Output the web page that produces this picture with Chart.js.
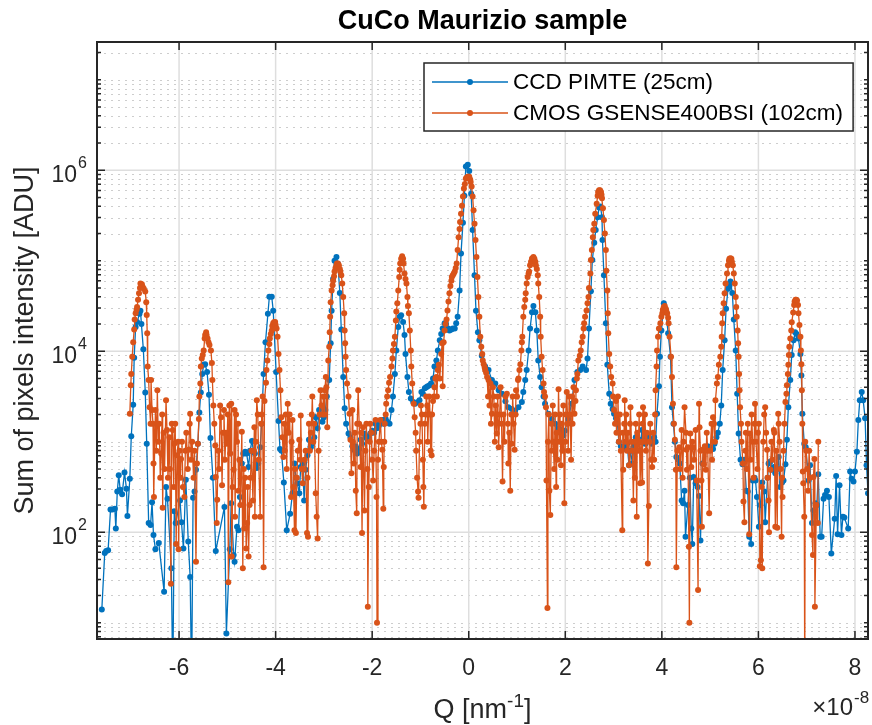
<!DOCTYPE html>
<html>
<head>
<meta charset="utf-8">
<title>CuCo Maurizio sample</title>
<script src="https://cdn.jsdelivr.net/npm/chart.js@4.4.1/dist/chart.umd.min.js"></script>
<style>
  html, body { margin: 0; padding: 0; background: #fff; }
  #wrap { width: 872px; height: 725px; }
</style>
</head>
<body>
<div id="wrap"><canvas id="qChart" width="872" height="725"></canvas></div>
<script>
// Q is given in units of 1e-8 (the x10^-8 multiplier is drawn at the bottom right)
// each entry: [Q, sum of pixels intensity in ADU]
const ccdPIMTE = [
  [-7.60,14],[-7.54,59],[-7.51,62],[-7.47,63],[-7.42,178],[-7.38,178],[-7.33,182],[-7.31,110],[-7.28,282],[-7.25,427],
  [-7.22,295],[-7.18,263],[-7.13,457],[-7.09,302],[-7.07,151],[-7.02,389],[-6.99,1150],[-6.95,2570],[-6.93,8500],[-6.90,18600],
  [-6.87,21000],[-6.82,26000],[-6.80,28000],[-6.78,20000],[-6.74,10500],[-6.70,3500],[-6.67,950],[-6.63,126],[-6.59,120],[-6.56,214],
  [-6.53,93],[-6.49,65],[-6.42,76],[-6.31,22],[-6.27,316],[-6.24,234],[-6.16,40],[-6.13,2],[-6.10,170],[-6.07,126],
  [-5.98,224],[-5.95,129],[-5.91,66],[-5.86,380],[-5.81,79],[-5.77,32],[-5.74,2],[-5.71,240],[-5.68,282],[-5.65,490],
  [-5.61,950],[-5.58,2100],[-5.55,3500],[-5.52,5600],[-5.49,7100],[-5.46,7200],[-5.42,5900],[-5.38,3300],[-5.35,1100],[-5.30,400],
  [-5.24,62],[-5.06,190],[-5.02,7.6],[-4.95,65],[-4.92,209],[-4.87,56],[-4.85,47],[-4.80,115],[-4.77,105],[-4.74,245],
  [-4.70,575],[-4.67,740],[-4.63,776],[-4.60,740],[-4.56,525],[-4.53,794],[-4.49,1020],[-4.46,794],[-4.43,740],[-4.39,513],
  [-4.36,575],[-4.32,870],[-4.29,1580],[-4.25,5600],[-4.21,12600],[-4.16,26000],[-4.13,40000],[-4.08,40000],[-4.05,28000],[-3.99,5900],
  [-3.94,1700],[-3.91,830],[-3.88,794],[-3.83,355],[-3.77,105],[-3.70,160],[-3.65,270],[-3.61,575],[-3.58,400],[-3.55,347],
  [-3.51,270],[-3.48,525],[-3.44,575],[-3.41,224],[-3.38,490],[-3.34,708],[-3.31,1050],[-3.27,870],[-3.24,950],[-3.20,1120],
  [-3.17,1860],[-3.13,1410],[-3.10,2240],[-3.07,2000],[-3.03,1660],[-3.00,1860],[-2.97,2240],[-2.94,3160],[-2.89,4800],[-2.86,12300],
  [-2.84,28000],[-2.81,63000],[-2.78,100000],[-2.74,110000],[-2.71,93000],[-2.67,44000],[-2.64,17400],[-2.60,5200],[-2.57,2340],[-2.54,1580],
  [-2.49,1230],[-2.45,1120],[-2.41,890],[-2.38,813],[-2.34,890],[-2.31,740],[-2.27,830],[-2.24,1050],[-2.21,950],[-2.17,1230],
  [-2.13,1120],[-2.10,1050],[-2.07,1150],[-2.04,1230],[-2.00,1320],[-1.96,1260],[-1.93,1580],[-1.90,1410],[-1.86,1510],[-1.83,1660],
  [-1.79,1740],[-1.76,1580],[-1.72,1780],[-1.69,1660],[-1.64,1580],[-1.60,2240],[-1.57,3160],[-1.53,5600],[-1.50,10200],[-1.46,18600],
  [-1.43,24000],[-1.40,25000],[-1.36,21000],[-1.33,15100],[-1.31,9300],[-1.27,5200],[-1.24,3550],[-1.20,3000],[-1.15,2750],[-1.11,2630],
  [-1.05,2750],[-1.02,2880],[-0.98,3550],[-0.95,3400],[-0.91,3900],[-0.88,4000],[-0.85,4100],[-0.81,4200],[-0.78,4400],[-0.74,5000],
  [-0.71,6800],[-0.67,7900],[-0.64,10200],[-0.60,13200],[-0.57,15500],[-0.54,17800],[-0.50,20400],[-0.47,20000],[-0.43,17800],[-0.40,17000],
  [-0.36,17400],[-0.33,17800],[-0.29,17800],[-0.26,20400],[-0.23,24000],[-0.19,47000],[-0.16,120000],[-0.12,263000],[-0.09,525000],[-0.06,1100000],
  [-0.02,1150000],[0.01,980000],[0.05,550000],[0.08,219000],[0.12,69000],[0.15,28000],[0.19,16200],[0.22,13200],[0.27,8900],[0.34,6800],
  [0.41,6200],[0.48,4800],[0.55,4400],[0.62,3700],[0.69,3400],[0.76,2800],[0.82,2400],[0.89,2300],[0.96,2200],[1.03,2400],
  [1.10,2750],[1.13,3550],[1.17,4800],[1.20,6200],[1.24,10200],[1.27,17800],[1.31,27000],[1.34,31600],[1.38,27000],[1.41,17000],
  [1.44,7900],[1.48,5200],[1.51,4000],[1.55,3160],[1.58,2630],[1.65,2040],[1.72,1780],[1.79,1580],[1.86,1410],[1.92,1350],
  [1.96,1170],[1.99,1320],[2.06,1780],[2.13,2630],[2.19,4800],[2.25,5900],[2.31,6200],[2.36,6800],[2.43,6200],[2.46,8300],
  [2.49,17800],[2.53,46000],[2.56,102000],[2.60,158000],[2.63,219000],[2.67,302000],[2.70,389000],[2.73,398000],[2.76,302000],[2.77,170000],
  [2.80,69000],[2.84,20400],[2.87,7100],[2.91,3400],[2.94,2630],[2.98,2300],[3.01,2040],[3.05,1820],[3.08,1580],[3.11,1000],
  [3.15,890],[3.18,813],[3.22,850],[3.25,910],[3.28,950],[3.32,550],[3.35,794],[3.39,575],[3.42,890],[3.46,1120],
  [3.49,950],[3.53,1050],[3.56,1000],[3.59,1350],[3.63,1120],[3.66,950],[3.70,1050],[3.73,1120],[3.77,1050],[3.80,950],
  [3.84,1120],[3.87,1000],[3.90,2040],[3.94,4100],[3.96,8700],[3.99,17000],[4.04,34000],[4.08,29000],[4.13,15800],[4.18,8700],
  [4.21,2400],[4.24,1580],[4.27,1000],[4.30,676],[4.34,631],[4.37,575],[4.41,224],[4.44,209],[4.47,288],[4.49,89],
  [4.54,200],[4.58,400],[4.61,110],[4.63,74],[4.66,407],[4.70,347],[4.74,316],[4.77,251],[4.80,81],[4.84,575],
  [4.87,813],[4.92,870],[4.95,890],[4.99,870],[5.02,850],[5.06,830],[5.09,950],[5.13,1120],[5.16,1260],[5.20,1580],
  [5.23,2510],[5.26,6200],[5.30,13200],[5.33,29500],[5.37,49000],[5.40,52500],[5.42,59000],[5.46,44000],[5.49,22400],[5.53,10200],
  [5.56,3400],[5.59,1230],[5.63,631],[5.67,562],[5.71,631],[5.75,288],[5.78,282],[5.81,89],[5.85,74],[5.88,372],
  [5.92,400],[5.94,372],[5.97,245],[6.01,115],[6.04,200],[6.08,355],[6.12,282],[6.14,129],[6.19,400],[6.21,575],
  [6.25,603],[6.28,490],[6.32,525],[6.35,447],[6.39,501],[6.42,676],[6.45,316],[6.49,355],[6.52,372],[6.56,562],
  [6.59,1050],[6.62,2400],[6.66,4800],[6.69,9100],[6.73,13200],[6.76,16200],[6.79,15500],[6.83,13800],[6.87,9300],[6.89,5400],
  [6.91,2040],[6.95,950],[6.98,870],[7.04,372],[7.07,550],[7.11,126],[7.14,174],[7.18,209],[7.21,200],[7.24,437],
  [7.28,89],[7.31,89],[7.35,234],[7.38,257],[7.42,288],[7.46,245],[7.51,58],[7.58,141],[7.61,417],[7.64,95],
  [7.68,331],[7.72,93],[7.75,148],[7.78,145],[7.86,110],[7.90,468],[7.93,389],[7.97,363],[8.00,468],[8.04,776],
  [8.07,1740],[8.10,2880],[8.14,3550],[8.17,2880],[8.21,1820],[8.24,550],[8.27,269]
];

const cmosGSENSE = [
  [-7.02,2040],[-7.00,4200],[-6.99,5600],[-6.97,8700],[-6.95,12600],[-6.93,17400],[-6.92,22400],[-6.90,26300],[-6.88,28800],[-6.87,30900],
  [-6.85,37000],[-6.83,43700],[-6.81,50000],[-6.80,56000],[-6.77,55000],[-6.75,51000],[-6.73,49000],[-6.70,45700],[-6.68,34700],[-6.67,25100],
  [-6.66,15800],[-6.65,6800],[-6.63,4800],[-6.61,2400],[-6.59,1580],[-6.58,4800],[-6.56,2240],[-6.54,1580],[-6.53,575],[-6.52,245],
  [-6.49,2240],[-6.47,794],[-6.45,3700],[-6.43,1000],[-6.41,1580],[-6.39,400],[-6.37,740],[-6.35,2000],[-6.34,186],[-6.32,1260],
  [-6.30,500],[-6.27,2880],[-6.25,1350],[-6.23,400],[-6.20,1120],[-6.19,500],[-6.17,27],[-6.15,1580],[-6.13,1350],[-6.11,316],
  [-6.10,950],[-6.08,1580],[-6.06,74],[-6.04,708],[-6.02,1000],[-6.01,65],[-5.99,794],[-5.97,400],[-5.96,646],[-5.94,1000],
  [-5.92,316],[-5.89,245],[-5.87,794],[-5.85,1260],[-5.82,500],[-5.80,813],[-5.78,1580],[-5.77,2040],[-5.75,631],[-5.73,1000],
  [-5.70,400],[-5.68,794],[-5.65,47],[-5.63,575],[-5.61,950],[-5.59,1780],[-5.58,3160],[-5.56,4400],[-5.55,6800],[-5.53,8300],
  [-5.51,9100],[-5.49,10200],[-5.47,13800],[-5.46,15100],[-5.44,16200],[-5.43,15100],[-5.41,13800],[-5.39,12600],[-5.37,11700],[-5.34,10200],
  [-5.32,7400],[-5.31,4800],[-5.29,2510],[-5.27,1580],[-5.25,910],[-5.24,407],[-5.22,126],[-5.21,229],[-5.19,794],[-5.17,500],
  [-5.15,2510],[-5.13,1860],[-5.11,331],[-5.09,1260],[-5.07,2240],[-5.05,631],[-5.03,1260],[-5.01,950],[-4.99,2000],[-4.98,28],
  [-4.96,2510],[-4.94,740],[-4.92,2630],[-4.91,54],[-4.89,316],[-4.87,490],[-4.85,2240],[-4.84,148],[-4.82,2000],[-4.80,1000],
  [-4.78,1580],[-4.77,288],[-4.75,631],[-4.73,200],[-4.70,1290],[-4.68,40],[-4.66,500],[-4.65,110],[-4.63,400],[-4.61,66],
  [-4.59,126],[-4.58,316],[-4.56,54],[-4.54,200],[-4.52,400],[-4.50,794],[-4.47,224],[-4.45,794],[-4.44,1450],[-4.43,148],
  [-4.41,1000],[-4.39,2880],[-4.37,2000],[-4.35,631],[-4.32,148],[-4.30,1580],[-4.29,2000],[-4.27,3160],[-4.25,41],[-4.23,2820],
  [-4.20,4500],[-4.19,6200],[-4.17,7900],[-4.15,10200],[-4.13,12000],[-4.12,13800],[-4.10,15500],[-4.08,17000],[-4.07,19000],[-4.05,20400],
  [-4.03,21000],[-4.01,21000],[-4.00,19500],[-3.98,17800],[-3.96,14500],[-3.94,9300],[-3.92,6200],[-3.90,3700],[-3.88,1860],[-3.86,1120],
  [-3.84,676],[-3.82,1580],[-3.81,794],[-3.79,2000],[-3.77,500],[-3.75,2630],[-3.73,1260],[-3.71,2000],[-3.68,245],[-3.67,1000],
  [-3.65,1740],[-3.63,316],[-3.61,105],[-3.60,500],[-3.58,98],[-3.56,400],[-3.54,794],[-3.51,1050],[-3.49,631],[-3.48,1950],
  [-3.46,500],[-3.44,347],[-3.42,500],[-3.40,631],[-3.38,794],[-3.35,98],[-3.34,400],[-3.33,89],[-3.31,1580],[-3.29,794],
  [-3.27,1260],[-3.25,2000],[-3.24,3160],[-3.22,1000],[-3.20,1580],[-3.17,269],[-3.15,148],[-3.13,85],[-3.11,794],[-3.09,2000],
  [-3.07,3700],[-3.05,2510],[-3.03,2000],[-3.01,3160],[-2.99,2000],[-2.98,3700],[-2.96,5200],[-2.95,4000],[-2.93,1450],[-2.91,7900],
  [-2.89,11200],[-2.88,16200],[-2.87,24000],[-2.86,34700],[-2.84,46800],[-2.82,53700],[-2.81,60300],[-2.79,67600],[-2.78,75900],[-2.76,83200],
  [-2.74,89100],[-2.73,93300],[-2.71,93300],[-2.69,89100],[-2.67,81300],[-2.66,75900],[-2.64,69200],[-2.62,56200],[-2.60,39800],[-2.58,26300],
  [-2.57,17000],[-2.56,12300],[-2.55,8700],[-2.54,6200],[-2.52,4400],[-2.49,3160],[-2.47,2040],[-2.45,1050],[-2.43,447],[-2.41,2240],
  [-2.40,1000],[-2.38,575],[-2.36,1260],[-2.34,288],[-2.32,162],[-2.31,1580],[-2.29,3700],[-2.27,1580],[-2.24,525],[-2.23,1260],
  [-2.21,98],[-2.19,1450],[-2.16,174],[-2.14,794],[-2.12,1580],[-2.10,500],[-2.09,15],[-2.07,316],[-2.05,1000],[-2.04,1580],
  [-2.02,1260],[-2.00,631],[-1.98,372],[-1.96,794],[-1.93,1740],[-1.91,245],[-1.90,10],[-1.88,631],[-1.86,1000],[-1.83,1740],
  [-1.81,1000],[-1.79,813],[-1.77,182],[-1.76,525],[-1.75,1000],[-1.74,1580],[-1.72,2000],[-1.71,2630],[-1.69,3160],[-1.67,3700],
  [-1.65,4500],[-1.63,5200],[-1.60,6800],[-1.58,8300],[-1.57,10200],[-1.55,12000],[-1.53,14500],[-1.51,21900],[-1.50,27500],[-1.48,33900],
  [-1.46,46800],[-1.44,66100],[-1.43,79400],[-1.42,93300],[-1.40,105000],[-1.38,112000],[-1.36,105000],[-1.35,93300],[-1.33,72400],[-1.31,63100],
  [-1.29,56200],[-1.27,39800],[-1.26,31600],[-1.24,26300],[-1.22,17000],[-1.20,10200],[-1.19,6800],[-1.17,4400],[-1.14,2630],[-1.12,1860],
  [-1.10,1260],[-1.09,794],[-1.07,400],[-1.05,282],[-1.04,240],[-1.02,1000],[-1.00,1580],[-0.99,2510],[-0.97,2000],[-0.95,631],
  [-0.94,316],[-0.93,191],[-0.91,1580],[-0.89,2000],[-0.88,3160],[-0.86,2510],[-0.85,1000],[-0.82,3160],[-0.80,2000],[-0.79,794],
  [-0.77,708],[-0.76,2000],[-0.74,2820],[-0.72,3160],[-0.71,4000],[-0.69,5000],[-0.67,5200],[-0.66,3160],[-0.64,6200],[-0.62,7100],
  [-0.60,5000],[-0.57,9300],[-0.55,12300],[-0.54,4100],[-0.52,12600],[-0.50,17000],[-0.48,20000],[-0.46,22400],[-0.44,28200],[-0.42,35500],
  [-0.40,43700],[-0.38,52500],[-0.36,60300],[-0.35,66100],[-0.33,69200],[-0.31,72400],[-0.29,75900],[-0.27,83200],[-0.25,93300],[-0.23,132000],
  [-0.21,182000],[-0.19,224000],[-0.18,269000],[-0.16,331000],[-0.14,407000],[-0.12,513000],[-0.10,631000],[-0.08,708000],[-0.06,813000],[-0.04,832000],
  [-0.02,851000],[0.00,851000],[0.01,851000],[0.03,794000],[0.04,741000],[0.06,661000],[0.08,513000],[0.10,363000],[0.12,257000],[0.14,170000],
  [0.16,110000],[0.18,66100],[0.20,39800],[0.22,24000],[0.24,14500],[0.26,11200],[0.28,9300],[0.29,7900],[0.31,7200],[0.33,6600],
  [0.34,6200],[0.36,5800],[0.38,5200],[0.40,3160],[0.41,4800],[0.43,2510],[0.45,4400],[0.46,1580],[0.48,2040],[0.50,4000],
  [0.52,3160],[0.54,1000],[0.56,2510],[0.58,1230],[0.60,3160],[0.62,870],[0.64,2000],[0.66,4000],[0.68,1580],[0.70,363],
  [0.72,2000],[0.74,1000],[0.76,3160],[0.79,3400],[0.81,1580],[0.82,575],[0.84,1260],[0.86,288],[0.88,2000],[0.89,950],
  [0.91,3160],[0.93,1580],[0.95,813],[0.97,2000],[0.98,3700],[1.00,3160],[1.02,4800],[1.03,5000],[1.05,6200],[1.07,7200],
  [1.09,10200],[1.10,12600],[1.11,14500],[1.13,24000],[1.15,30900],[1.17,37200],[1.18,43700],[1.20,56200],[1.22,66100],[1.24,72400],
  [1.25,75900],[1.27,89100],[1.29,97700],[1.31,105000],[1.32,107000],[1.34,110000],[1.36,105000],[1.38,97700],[1.39,89100],[1.41,81300],
  [1.43,69200],[1.44,56200],[1.46,39800],[1.48,24000],[1.49,14500],[1.51,8700],[1.53,6200],[1.55,4400],[1.56,3550],[1.58,3160],
  [1.60,2400],[1.61,372],[1.63,14.5],[1.64,1000],[1.66,2000],[1.67,288],[1.69,155],[1.71,1580],[1.72,794],[1.74,2510],
  [1.75,1000],[1.77,500],[1.79,2000],[1.81,316],[1.82,1260],[1.84,631],[1.86,3800],[1.88,1000],[1.89,2000],[1.91,550],
  [1.93,1580],[1.94,794],[1.96,2510],[1.98,209],[2.00,1000],[2.01,2000],[2.03,3550],[2.05,1580],[2.06,794],[2.08,3160],
  [2.10,2000],[2.12,631],[2.14,3160],[2.15,1580],[2.17,4000],[2.19,2040],[2.21,2820],[2.22,3700],[2.24,5000],[2.25,5600],
  [2.27,7900],[2.30,8900],[2.32,10200],[2.34,12600],[2.36,14500],[2.38,17800],[2.39,20400],[2.41,24000],[2.44,28200],[2.46,33900],
  [2.48,39800],[2.49,50100],[2.52,72400],[2.53,102000],[2.55,132000],[2.57,182000],[2.58,219000],[2.60,257000],[2.62,331000],[2.65,427000],
  [2.67,525000],[2.68,575000],[2.70,603000],[2.72,603000],[2.74,575000],[2.75,537000],[2.76,490000],[2.78,380000],[2.80,282000],[2.82,200000],
  [2.84,132000],[2.85,77600],[2.87,46800],[2.88,26300],[2.89,15800],[2.91,9300],[2.93,6800],[2.95,5200],[2.98,4400],[2.99,3160],
  [3.01,2240],[3.03,1580],[3.05,2820],[3.06,1260],[3.08,2000],[3.09,3160],[3.11,1000],[3.13,2000],[3.15,794],[3.18,105],
  [3.19,1260],[3.20,490],[3.22,1580],[3.23,2880],[3.25,1000],[3.26,2000],[3.28,794],[3.30,1260],[3.32,550],[3.34,1580],
  [3.35,2400],[3.37,1000],[3.39,794],[3.41,224],[3.43,1000],[3.44,400],[3.46,1580],[3.48,148],[3.49,1260],[3.51,794],
  [3.53,2000],[3.55,347],[3.57,1000],[3.59,355],[3.60,1580],[3.61,2400],[3.63,1000],[3.65,2000],[3.67,794],[3.69,1260],
  [3.71,45],[3.73,195],[3.74,1000],[3.76,1580],[3.78,631],[3.80,525],[3.82,1260],[3.84,631],[3.86,2000],[3.87,3700],
  [3.89,6800],[3.90,10200],[3.92,14500],[3.94,17800],[3.97,20400],[3.99,24000],[4.01,26300],[4.02,28800],[4.04,30900],[4.06,31600],
  [4.08,29500],[4.09,28200],[4.11,26300],[4.13,23400],[4.14,20400],[4.16,14500],[4.19,8700],[4.21,5200],[4.23,2630],[4.25,1580],
  [4.27,1050],[4.29,490],[4.30,41],[4.32,794],[4.36,870],[4.38,500],[4.41,1350],[4.43,400],[4.45,1000],[4.47,2400],
  [4.50,1260],[4.51,813],[4.52,490],[4.54,870],[4.56,69],[4.57,10],[4.59,1230],[4.61,525],[4.63,1000],[4.64,870],
  [4.67,631],[4.70,1350],[4.72,372],[4.75,23],[4.77,2630],[4.78,1450],[4.80,794],[4.82,372],[4.83,115],[4.85,813],
  [4.87,562],[4.89,891],[4.91,490],[4.93,1260],[4.95,794],[4.98,162],[5.00,794],[5.03,1580],[5.04,631],[5.06,1860],
  [5.08,1580],[5.10,1000],[5.11,2880],[5.14,4400],[5.16,5200],[5.18,7100],[5.21,8700],[5.23,11200],[5.24,14500],[5.25,20400],
  [5.26,26300],[5.28,33900],[5.30,43700],[5.32,56200],[5.35,72400],[5.37,89100],[5.39,100000],[5.40,105000],[5.42,107000],[5.44,105000],
  [5.45,97700],[5.47,89100],[5.49,72400],[5.51,56200],[5.53,39800],[5.54,30900],[5.55,24000],[5.57,17000],[5.58,12300],[5.59,8700],
  [5.60,5600],[5.61,3700],[5.62,2400],[5.64,1580],[5.65,1000],[5.68,575],[5.69,219],[5.71,129],[5.73,794],[5.74,1260],
  [5.76,500],[5.78,1580],[5.81,95],[5.82,1230],[5.84,631],[5.86,2000],[5.88,1000],[5.90,400],[5.92,1580],[5.93,2630],
  [5.95,1000],[5.98,500],[5.99,1260],[6.01,1580],[6.03,42],[6.05,49],[6.07,316],[6.08,40],[6.10,1000],[6.12,2000],
  [6.14,2400],[6.16,1260],[6.18,813],[6.19,400],[6.21,224],[6.22,100],[6.25,490],[6.27,1000],[6.29,631],[6.32,1350],
  [6.33,1260],[6.35,115],[6.37,794],[6.39,112],[6.41,2040],[6.42,1580],[6.44,1000],[6.46,500],[6.48,89],[6.49,400],
  [6.50,245],[6.52,794],[6.54,1580],[6.56,2750],[6.58,3400],[6.59,4200],[6.61,5600],[6.62,7100],[6.63,9100],[6.64,11200],
  [6.66,13800],[6.68,17000],[6.69,20900],[6.72,26900],[6.74,32400],[6.75,35500],[6.77,37200],[6.78,37200],[6.80,36300],[6.82,32400],
  [6.83,26300],[6.85,19500],[6.87,14500],[6.88,10200],[6.89,7200],[6.90,3700],[6.91,1580],[6.92,468],[6.93,347],[6.95,148],
  [6.96,2],[6.97,1000],[6.99,794],[7.01,500],[7.03,288],[7.05,794],[7.07,400],[7.11,93],[7.13,56],[7.14,407],
  [7.16,646],[7.17,15],[7.20,200],[7.23,126],[7.24,1000]
];

const seriesNames = ['CCD PIMTE (25cm)', 'CMOS GSENSE400BSI (102cm)'];
const seriesColors = ['#0072BD', '#D95319'];
const xTicks = [-6, -4, -2, 0, 2, 4, 6, 8];
const yTicks = [1e2, 1e4, 1e6];
const xRange = [-7.70, 8.27];
const yRange = [6.6, 2.62e7];

const FONT = '"Liberation Sans", Arial, Helvetica, sans-serif';
const INK = '#262626';

function toPoints(pairs) {
    return pairs.map(function (p) { return { x: p[0], y: p[1] }; });
}

// 1..9 x 10^k positions for the minor ticks / dotted grid of the log axis
function logSteps() {
    const out = [];
    for (let e = 0; e <= 7; e++) {
        for (let k = 1; k <= 9; k++) {
            const v = k * Math.pow(10, e);
            if (v >= yRange[0] && v <= yRange[1]) out.push({ v: v, major: k === 1 && e % 2 === 0 && e >= 2 && e <= 6 });
        }
    }
    return out;
}

// "10" + superscript, right aligned at xr, centred on yc
function drawPow(ctx, base, sup, xr, yc) {
    ctx.font = '16px ' + FONT;
    const sw = ctx.measureText(sup).width;
    ctx.textAlign = 'left';
    ctx.fillText(sup, xr - sw, yc - 2);
    ctx.font = '23px ' + FONT;
    ctx.textAlign = 'right';
    ctx.fillText(base, xr - sw - 1, yc + 12);
}

const matlabAxes = {
    id: 'matlabAxes',
    beforeDraw(chart) {
        const ctx = chart.ctx;
        ctx.save();
        ctx.fillStyle = '#ffffff';
        ctx.fillRect(0, 0, chart.width, chart.height);
        ctx.restore();
    },
    beforeDatasetsDraw(chart) {
        const ctx = chart.ctx, a = chart.chartArea, xs = chart.scales.x, ys = chart.scales.y;
        ctx.save();
        // dotted minor grid
        ctx.strokeStyle = '#cdcdcd';
        ctx.lineWidth = 1;
        ctx.setLineDash([2, 5]);
        logSteps().forEach(function (s) {
            if (s.major) return;
            const py = Math.round(ys.getPixelForValue(s.v)) + 0.5;
            ctx.beginPath(); ctx.moveTo(a.left, py); ctx.lineTo(a.right, py); ctx.stroke();
        });
        // solid major grid
        ctx.setLineDash([]);
        ctx.strokeStyle = '#dedede';
        ctx.lineWidth = 1.5;
        xTicks.forEach(function (v) {
            const px = xs.getPixelForValue(v);
            ctx.beginPath(); ctx.moveTo(px, a.top); ctx.lineTo(px, a.bottom); ctx.stroke();
        });
        yTicks.forEach(function (v) {
            const py = ys.getPixelForValue(v);
            ctx.beginPath(); ctx.moveTo(a.left, py); ctx.lineTo(a.right, py); ctx.stroke();
        });
        ctx.restore();
    },
    afterDatasetsDraw(chart) {
        const ctx = chart.ctx, a = chart.chartArea, xs = chart.scales.x, ys = chart.scales.y;
        const midX = (a.left + a.right) / 2;
        ctx.save();
        ctx.strokeStyle = INK;
        ctx.fillStyle = INK;

        // ticks (inside, on all four sides)
        ctx.lineWidth = 1.5;
        xTicks.forEach(function (v) {
            const px = xs.getPixelForValue(v);
            ctx.beginPath();
            ctx.moveTo(px, a.bottom); ctx.lineTo(px, a.bottom - 8);
            ctx.moveTo(px, a.top); ctx.lineTo(px, a.top + 8);
            ctx.stroke();
        });
        logSteps().forEach(function (s) {
            const py = ys.getPixelForValue(s.v);
            const len = s.major ? 8 : 4;
            ctx.beginPath();
            ctx.moveTo(a.left, py); ctx.lineTo(a.left + len, py);
            ctx.moveTo(a.right, py); ctx.lineTo(a.right - len, py);
            ctx.stroke();
        });

        // axes box
        ctx.lineWidth = 2;
        ctx.strokeRect(a.left, a.top, a.right - a.left, a.bottom - a.top);

        // x tick labels
        ctx.font = '23px ' + FONT;
        ctx.textAlign = 'center';
        ctx.textBaseline = 'alphabetic';
        xTicks.forEach(function (v) {
            ctx.fillText(String(v), xs.getPixelForValue(v), a.bottom + 36);
        });
        // y tick labels 10^n
        yTicks.forEach(function (v) {
            drawPow(ctx, '10', String(Math.round(Math.log10(v))), a.left - 10, ys.getPixelForValue(v));
        });

        // x10^-8 multiplier
        ctx.font = '24px ' + FONT;
        ctx.textAlign = 'right';
        ctx.fillText('\u00d710', a.right - 15, 715);
        ctx.font = '17px ' + FONT;
        ctx.textAlign = 'left';
        ctx.fillText('-8', a.right - 14, 703);

        // x label with superscript
        const xl1 = 'Q [nm', xl2 = '-1', xl3 = ']';
        ctx.font = '27px ' + FONT;
        const w1 = ctx.measureText(xl1).width, w3 = ctx.measureText(xl3).width;
        ctx.font = '19px ' + FONT;
        const w2 = ctx.measureText(xl2).width;
        let sx = midX - (w1 + w2 + w3) / 2;
        ctx.textAlign = 'left';
        ctx.font = '27px ' + FONT;
        ctx.fillText(xl1, sx, 718);
        ctx.font = '19px ' + FONT;
        ctx.fillText(xl2, sx + w1, 707);
        ctx.font = '27px ' + FONT;
        ctx.fillText(xl3, sx + w1 + w2, 718);

        // y label
        ctx.save();
        ctx.translate(33, (a.top + a.bottom) / 2);
        ctx.rotate(-Math.PI / 2);
        ctx.textAlign = 'center';
        ctx.font = '27px ' + FONT;
        ctx.fillText('Sum of pixels intensity [ADU]', 0, 0);
        ctx.restore();

        // title
        ctx.fillStyle = '#000';
        ctx.font = 'bold 27px ' + FONT;
        ctx.textAlign = 'center';
        ctx.fillText('CuCo Maurizio sample', midX, 29);

        // legend box
        ctx.font = '22.5px ' + FONT;
        const tw = Math.max.apply(null, seriesNames.map(function (n) { return ctx.measureText(n).width; }));
        const bx = a.left + 327, by = a.top + 21, bh = 68;
        const bw = 89 + tw + 10;
        ctx.fillStyle = '#fff';
        ctx.fillRect(bx, by, bw, bh);
        ctx.strokeStyle = INK;
        ctx.lineWidth = 1.5;
        ctx.strokeRect(bx, by, bw, bh);
        seriesNames.forEach(function (name, i) {
            const cy = by + 19 + i * 31;
            ctx.strokeStyle = seriesColors[i];
            ctx.fillStyle = seriesColors[i];
            ctx.lineWidth = 1.3;
            ctx.beginPath(); ctx.moveTo(bx + 8, cy); ctx.lineTo(bx + 84, cy); ctx.stroke();
            ctx.beginPath(); ctx.arc(bx + 46, cy, 3, 0, Math.PI * 2); ctx.fill();
            ctx.fillStyle = '#000';
            ctx.textAlign = 'left';
            ctx.textBaseline = 'middle';
            ctx.fillText(name, bx + 89, cy + 1);
        });
        ctx.restore();
    }
};

const ctx = document.getElementById('qChart').getContext('2d');
const qChart = new Chart(ctx, {
    type: 'line',
    data: {
        datasets: [{
            label: seriesNames[0],
            data: toPoints(ccdPIMTE),
            borderColor: seriesColors[0],
            backgroundColor: seriesColors[0],
            borderWidth: 1.3,
            pointRadius: 3,
            pointBorderWidth: 0,
            pointBackgroundColor: seriesColors[0],
            tension: 0,
            fill: false,
            order: 2
        }, {
            label: seriesNames[1],
            data: toPoints(cmosGSENSE),
            borderColor: seriesColors[1],
            backgroundColor: seriesColors[1],
            borderWidth: 1.3,
            pointRadius: 3,
            pointBorderWidth: 0,
            pointBackgroundColor: seriesColors[1],
            tension: 0,
            fill: false,
            order: 1
        }]
    },
    options: {
        responsive: false,
        devicePixelRatio: 1,
        animation: false,
        events: [],
        layout: { padding: { left: 97, top: 42, right: 1, bottom: 86 } },
        scales: {
            x: { type: 'linear', min: xRange[0], max: xRange[1], display: false },
            y: { type: 'logarithmic', min: yRange[0], max: yRange[1], display: false }
        },
        plugins: {
            legend: { display: false },
            title: { display: false },
            tooltip: { enabled: false }
        }
    },
    plugins: [matlabAxes]
});
</script>
</body>
</html>
